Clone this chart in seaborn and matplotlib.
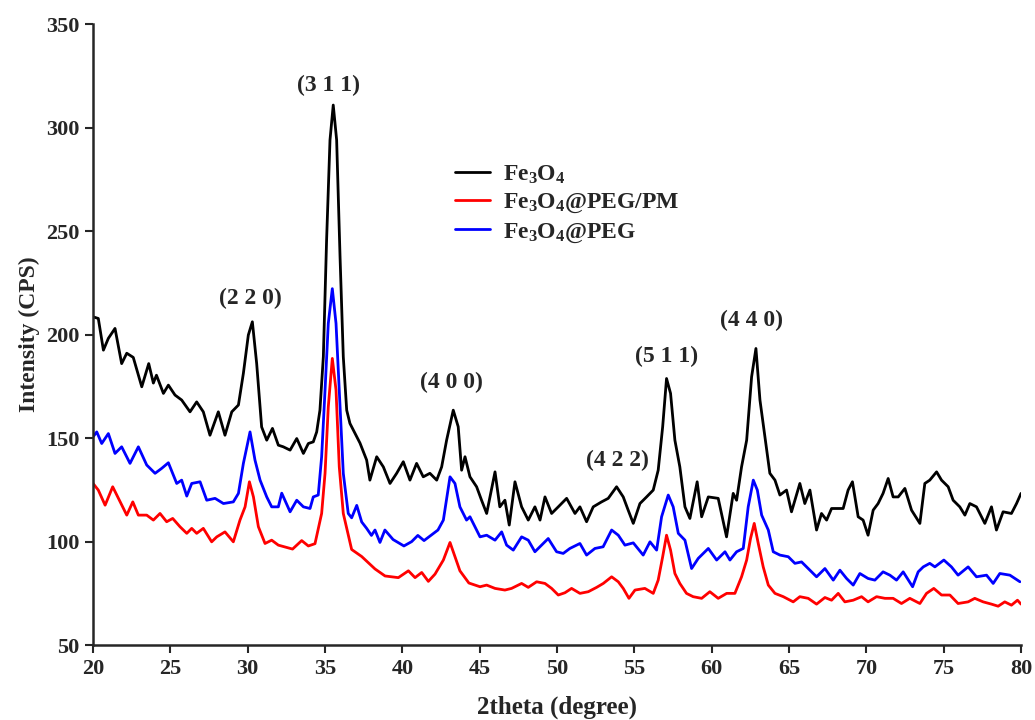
import pandas as pd
import matplotlib
matplotlib.use("Agg")
import matplotlib.pyplot as plt
import seaborn as sns

# Fe3O4 (black)
fe_x = [20.0, 20.34, 20.67, 20.99, 21.42, 21.85, 22.18, 22.6, 23.15, 23.6, 23.9, 24.1, 24.55, 24.87,
        25.3, 25.73, 26.27, 26.7, 27.13, 27.56, 28.1, 28.53, 28.97, 29.4, 29.72, 30.04, 30.3, 30.58,
        30.9, 31.23, 31.6, 31.98, 32.3, 32.74, 33.17, 33.6, 33.92, 34.24, 34.46, 34.67, 34.89, 35.1,
        35.32, 35.53, 35.75, 35.97, 36.18, 36.4, 36.61, 36.83, 37.26, 37.69, 37.9, 38.34, 38.77, 39.2,
        39.63, 40.06, 40.49, 40.92, 41.35, 41.78, 42.22, 42.54, 42.86, 43.29, 43.61, 43.83, 44.05,
        44.37, 44.8, 45.12, 45.45, 45.99, 46.3, 46.63, 46.91, 47.28, 47.71, 48.14, 48.57, 48.9, 49.22,
        49.65, 50.08, 50.62, 51.16, 51.48, 51.91, 52.34, 52.88, 53.31, 53.85, 54.28, 54.6, 54.93,
        55.36, 55.79, 56.22, 56.54, 56.83, 57.08, 57.34, 57.62, 57.94, 58.27, 58.59, 59.06, 59.35,
        59.78, 60.42, 60.96, 61.39, 61.61, 61.93, 62.26, 62.58, 62.86, 63.12, 63.44, 63.76, 64.09,
        64.41, 64.84, 65.16, 65.7, 66.02, 66.35, 66.78, 67.1, 67.43, 67.75, 68.5, 68.82, 69.1, 69.47,
        69.79, 70.11, 70.44, 70.76, 71.08, 71.41, 71.73, 72.06, 72.49, 72.92, 73.46, 73.78, 74.1,
        74.54, 74.86, 75.29, 75.61, 76.04, 76.37, 76.69, 77.12, 77.66, 78.09, 78.41, 78.84, 79.38,
        79.71, 80.0]
fe_y = [208.6, 207.8, 192.5, 198.2, 203, 186, 191, 189, 174.8, 186, 176.6, 180.4, 171.6, 175.6,
        170.8, 168.4, 162.7, 167.5, 162.7, 151.4, 162.7, 151.4, 162.7, 166, 181.3, 199.8, 206.2, 186,
        155.4, 149, 154.7, 146.6, 145.8, 144.2, 149.8, 142.6, 147.4, 148.2, 153, 163.5, 189.3, 245.6,
        294, 310.9, 294, 237.6, 189.3, 163.5, 157.1, 153.9, 147.6, 139.4, 129.7, 141, 136.1, 128.1,
        133, 138.6, 129.7, 137.8, 131.3, 133, 129.7, 136.1, 149, 163.5, 155.5, 134.5, 141,
        131.3, 126.5, 120, 113.6, 133.7, 116.8, 120, 108, 128.9, 116.8, 110.4, 116.8, 110.4, 121.6,
        113.6, 116.8, 120.9, 113.6, 116.8, 109.6, 116.8, 119.2, 120.9, 126.5, 121.6, 115.2, 108.8,
        118.4, 121.6, 124.9, 134.5, 155.5, 178.8, 171.6, 149, 136.1, 116.8, 111.2, 128.9, 112,
        121.6, 120.9, 102.3, 123.3, 120, 136.1, 149, 179.6, 193.3, 168.4, 150.6, 133, 129.7,
        122.5, 124.9, 114.4, 128.1, 118.4, 124.9, 105.6, 113.6, 110.4, 116, 116, 124.9, 128.9, 112,
        110.4, 103.1, 115.2, 118.4, 123.3, 130.5, 121.6, 121.6, 125.7, 115.2, 108.8, 128.1, 129.7,
        133.7, 129.7, 126.5, 120, 116.8, 112.8, 118.4, 116.8, 108.8, 116.8, 105.6, 114.4, 113.6,
        118.4, 123.3]

# Fe3O4@PEG (blue)
peg_x = [20.0, 20.24, 20.56, 20.99, 21.42, 21.85, 22.39, 22.93, 23.47, 24.01, 24.44, 24.87, 25.41,
         25.73, 26.06, 26.38, 26.92, 27.35, 27.89, 28.43, 29.07, 29.4, 29.72, 30.15, 30.47, 30.8,
         31.23, 31.55, 31.98, 32.2, 32.74, 33.17, 33.6, 34.03, 34.24, 34.56, 34.78, 35.0, 35.21,
         35.47, 35.71, 35.92, 36.18, 36.5, 36.72, 37.05, 37.37, 37.69, 38.0, 38.23, 38.55, 38.87,
         39.4, 40.1, 40.6, 41.0, 41.4, 42.0, 42.3, 42.65, 43.08, 43.4, 43.72, 44.15, 44.37, 45.02,
         45.45, 45.99, 46.42, 46.74, 47.17, 47.71, 48.14, 48.57, 49.0, 49.43, 49.97, 50.4, 50.83,
         51.48, 51.91, 52.45, 52.98, 53.53, 53.96, 54.39, 54.93, 55.57, 56.01, 56.44, 56.76, 57.19,
         57.51, 57.84, 58.27, 58.7, 59.13, 59.78, 60.32, 60.86, 61.18, 61.61, 62.04, 62.36, 62.69,
         62.95, 63.23, 63.66, 63.98, 64.41, 64.95, 65.38, 65.81, 66.24, 66.78, 67.32, 67.86, 68.29,
         68.72, 69.15, 69.58, 70.11, 70.55, 71.08, 71.52, 71.95, 72.38, 72.99, 73.35, 73.68, 74.1,
         74.43, 75.01, 75.5, 75.93, 76.58, 77.12, 77.77, 78.2, 78.63, 79.28, 79.93]
peg_y = [150.6, 153, 147.4, 152.2, 142.6, 145.8, 137.8, 145.8, 137, 133, 135.4, 138.1, 128.1,
         129.7, 122, 128.1, 128.9, 120, 120.9, 118.4, 119.2, 123.3, 137.8, 153, 139.4, 129.7,
         121.6, 116.8, 116.8, 123.4, 114.4, 120, 116.8, 116, 121.6, 122.5, 141, 173.2, 205.4,
         222.2, 205.4, 173.2, 133, 113.6, 111.5, 117.5, 109.5, 106.4, 103, 105.6, 99.6, 105.6,
         101, 97.9, 100, 103, 100.5, 103.9, 105.6, 110.4, 131.3, 128.1, 116.8, 110.4, 112, 102.3,
         103.1, 100.7, 104.7, 98.3, 95.9, 102.3, 100.7, 95.1, 98.3, 101.5, 95.1, 94.3, 96.7,
         99.1, 93.5, 96.7, 97.5, 105.6, 103.1, 98.3, 99.4, 93.5, 99.9, 95.9, 112, 122.5,
         116.8, 104, 100.7, 87, 91.9, 96.7, 91.1, 95.1, 91.1, 95.1, 96.7, 116.8, 129.7,
         124.9, 112.8, 105.6, 95.1, 93.5, 92.7, 89.5, 90.2, 87, 83, 87, 81.4, 86.2,
         82.2, 79, 84.6, 82.2, 81.4, 85.4, 83.8, 81.4, 85.4, 78.2, 85.4, 87.8, 89.5,
         87.8, 91.1, 87.8, 83.8, 87.8, 83, 83.8, 79.8, 84.6, 83.8, 80.6]

# Fe3O4@PEG/PM (red)
pm_x = [20.0, 20.34, 20.78, 21.27, 21.64, 22.18, 22.57, 22.93, 23.47, 23.9, 24.33, 24.76, 25.15,
        25.62, 26.06, 26.38, 26.7, 27.13, 27.67, 28.0, 28.53, 29.07, 29.5, 29.83, 30.11, 30.37,
        30.69, 31.12, 31.55, 31.98, 32.9, 33.49, 33.92, 34.35, 34.78, 35.0, 35.21, 35.47, 35.71,
        35.92, 36.18, 36.72, 37.37, 38.23, 38.88, 39.74, 40.39, 40.82, 41.25, 41.68, 42.11, 42.65,
        43.08, 43.4, 43.72, 44.3, 45.02, 45.45, 45.99, 46.63, 47.06, 47.71, 48.14, 48.68, 49.22,
        49.65, 50.08, 50.51, 50.94, 51.48, 52.02, 52.56, 52.99, 53.53, 53.96, 54.28, 54.65, 55.04,
        55.68, 56.22, 56.54, 56.83, 57.08, 57.34, 57.62, 57.94, 58.37, 58.8, 59.35, 59.88, 60.42,
        60.97, 61.5, 61.93, 62.26, 62.51, 62.75, 63.01, 63.33, 63.66, 64.09, 64.63, 65.27, 65.7,
        66.24, 66.78, 67.32, 67.75, 68.18, 68.61, 69.15, 69.69, 70.11, 70.66, 71.2, 71.73, 72.27,
        72.81, 73.46, 73.89, 74.36, 74.86, 75.4, 75.93, 76.58, 77.01, 77.55, 78.09, 78.52, 78.95,
        79.38, 79.77, 80.0]
pm_y = [128.1, 124.9, 117.6, 126.5, 120.9, 112.8, 119.2, 112.8, 112.8, 110.4, 113.6, 109.6, 111.2,
        107.2, 104, 106.4, 104, 106.4, 99.9, 102.3, 104.7, 99.9, 110.4, 116.8, 128.9, 121.6,
        107.2, 99.1, 100.7, 98.3, 96.4, 100.5, 97.9, 99, 113.6, 133, 165.1, 188.5, 173.2,
        136.1, 113.6, 96.2, 92.8, 86.8, 83.4, 82.6, 85.9, 82.6, 85.1, 80.8, 84.3, 91.1,
        99.6, 92.8, 85.9, 80, 78.2, 79, 77.4, 76.6, 77.4, 79.8, 77.9, 80.6, 79.8,
        77.4, 74.2, 75.3, 77.4, 75, 75.8, 77.9, 79.8, 83, 80.6, 77.4, 72.6, 76.6,
        77.4, 75, 81.4, 92.7, 103.1, 95.9, 84.6, 79.8, 75, 73.4, 72.6, 75.8, 72.6,
        75, 75, 83, 91.1, 101.5, 108.8, 99.1, 87.8, 79, 75, 73.4, 70.9, 73.4,
        72.6, 69.8, 73, 71.7, 75, 70.9, 71.7, 73.4, 70.9, 73.4, 72.6, 72.6, 70.1,
        72.6, 70.1, 75, 77.4, 74.2, 74.2, 70.1, 70.9, 72.6, 70.9, 69.8, 68.8, 70.9,
        69.3, 71.7, 69.8]

labels = ["Fe$_3$O$_4$", "Fe$_3$O$_4$@PEG/PM", "Fe$_3$O$_4$@PEG"]
colors = ["black", "#ff0000", "#0000ff"]

peaks = ["(3 1 1)", "(2 2 0)", "(4 0 0)", "(4 2 2)", "(5 1 1)", "(4 4 0)"]
peak_x = [35.2, 30.15, 43.2, 53.9, 57.1, 62.6]
peak_y = [320.5, 217.6, 177, 139, 189.6, 207]

sns.set_style("ticks")
plt.rcParams["font.family"] = ["Liberation Serif", "DejaVu Serif"]
plt.rcParams["font.weight"] = "bold"
plt.rcParams["mathtext.default"] = "regular"

df = pd.concat([
    pd.DataFrame({"x": fe_x, "y": fe_y, "sample": labels[0]}),
    pd.DataFrame({"x": pm_x, "y": pm_y, "sample": labels[1]}),
    pd.DataFrame({"x": peg_x, "y": peg_y, "sample": labels[2]}),
])

fig = plt.figure(figsize=(10.35, 7.2), dpi=100)
ax = fig.add_axes([0.0899, 0.104, 0.8966, 0.8625])
sns.lineplot(data=df, x="x", y="y", hue="sample", hue_order=labels,
             palette=dict(zip(labels, colors)), estimator=None, linewidth=2, ax=ax)

# Miller indices over the peaks
for t, px, py in zip(peaks, peak_x, peak_y):
    ax.text(px, py, t, ha="center", va="center", fontsize=17, fontweight="bold")

ax.set_xlim(20, 80)
ax.set_ylim(50, 350)
ax.set_xticks(range(20, 81, 5))
ax.set_yticks(range(50, 351, 50))
ax.set_xlabel("2theta (degree)", fontsize=18, fontweight="bold", labelpad=12)
ax.set_ylabel("Intensity (CPS)", fontsize=17, fontweight="bold", labelpad=4)
ax.tick_params(direction="out", length=6, width=1.5, labelsize=16, pad=4)
for lab in ax.get_xticklabels() + ax.get_yticklabels():
    lab.set_fontweight("bold")
sns.despine(ax=ax)
for s in ["left", "bottom"]:
    ax.spines[s].set_linewidth(1.8)

leg = ax.legend(loc="upper left", bbox_to_anchor=(0.367, 0.81), frameon=False,
                fontsize=17, handlelength=1.5, handletextpad=0.55, labelspacing=0.25)
for t in leg.get_texts():
    t.set_fontweight("bold")

fig.savefig("out.png", dpi=100)
